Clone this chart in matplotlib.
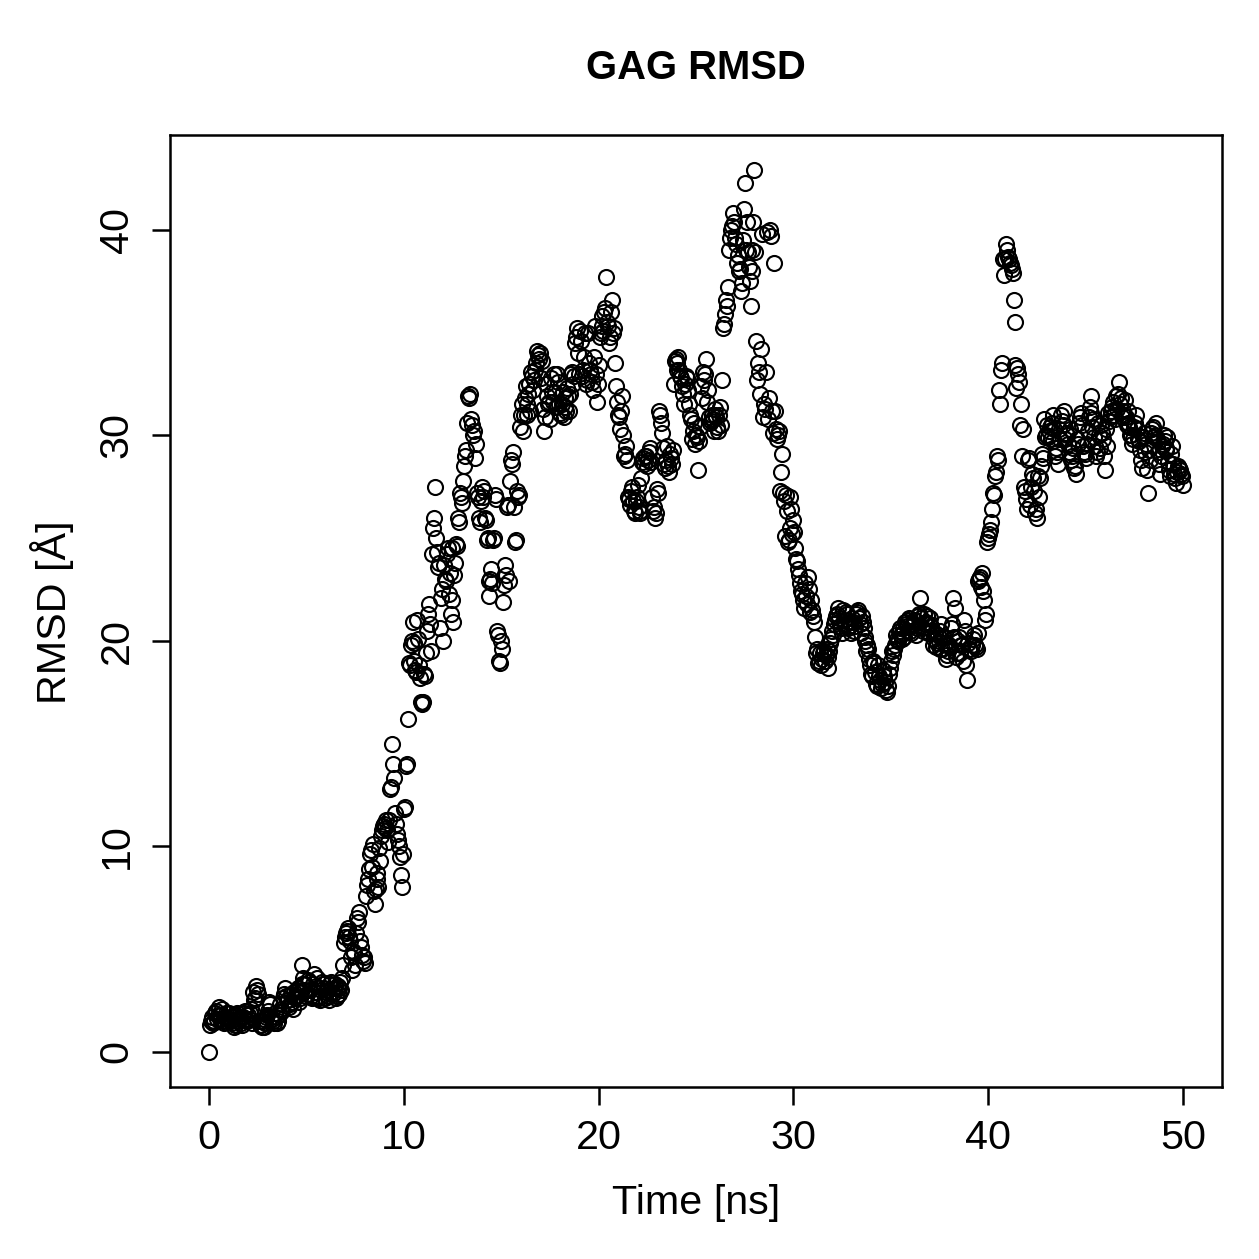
import numpy as np
import matplotlib
matplotlib.use("Agg")
import matplotlib.pyplot as plt

plt.rcParams['font.family'] = ['Liberation Sans', 'DejaVu Sans']

title = "GAG RMSD"
x_label = "Time [ns]"
y_label = "RMSD [Å]"
x_ticks = [0, 10, 20, 30, 40, 50]
y_ticks = [0, 10, 20, 30, 40]
time_step_ns = 0.05

# RMSD [Å] at t = 0.0, 0.1, ..., 50.0 ns
rmsd_whole = [0.0,
    1.5, 1.4, 1.9, 1.6, 2.2, 1.8, 1.5, 1.7, 1.9, 1.6,
    1.6, 1.4, 1.2, 1.8, 1.5, 1.7, 1.3, 1.9, 1.6, 1.8,
    1.9, 1.4, 2.5, 3.2, 2.8, 1.3, 1.2, 1.6, 1.4, 1.8,
    2.4, 1.7, 1.5, 1.9, 1.4, 1.8, 2.1, 2.6, 3.1, 2.5,
    2.2, 2.8, 2.1, 2.6, 3.0, 2.4, 2.9, 4.2, 3.3, 2.7,
    3.5, 3.0, 2.6, 3.8, 3.2, 2.7, 2.5, 3.4, 3.1, 2.9,
    2.7, 3.3, 2.9, 3.1, 2.6, 3.2, 2.8, 3.0, 4.2, 5.6,
    5.9, 5.6, 4.6, 4.9, 4.2, 6.5, 6.8, 5.1, 4.4, 4.3,
    8.1, 8.9, 9.8, 10.1, 7.2, 8.7, 8.0, 9.3, 10.8, 11.1,
    11.3, 10.2, 12.8, 15.0, 13.3, 11.1, 10.3, 9.5, 8.0, 11.8,
    13.9, 16.2, 18.8, 20.0, 19.9, 18.6, 21.0, 18.8, 17.0, 17.0,
    18.3, 20.5, 21.8, 19.5, 25.5, 27.5, 24.3, 23.8, 22.1, 20.0,
    23.0, 24.2, 22.3, 21.3, 24.5, 23.2, 24.7, 26.0, 27.2, 26.7,
    28.5, 29.3, 31.9, 32.0, 30.5, 30.2, 29.6, 27.0, 25.8, 27.5,
    27.3, 25.9, 25.0, 22.2, 23.5, 24.9, 27.1, 20.5, 19.0, 20.0,
    21.9, 23.7, 26.5, 22.9, 28.8, 29.2, 24.8, 27.3, 27.1, 31.0,
    30.2, 31.8, 31.0, 32.0, 31.2, 32.9, 32.7, 33.5, 33.9, 34.0,
    33.6, 30.2, 32.5, 31.5, 30.8, 32.1, 33.0, 31.4, 32.6, 31.1,
    31.5, 30.9, 31.8, 32.3, 31.2, 33.0, 32.5, 34.5, 35.2, 33.0,
    34.6, 33.2, 35.0, 32.7, 33.5, 33.0, 32.2, 35.3, 31.6, 33.4,
    35.0, 35.8, 36.0, 37.7, 35.3, 34.8, 36.6, 35.2, 32.4, 31.0,
    30.3, 31.9, 29.0, 29.5, 27.0, 26.6, 27.5, 26.3, 26.8, 27.6,
    26.2, 27.9, 28.9, 29.0, 28.5, 29.2, 28.7, 26.3, 26.0, 27.4,
    31.2, 30.6, 29.4, 28.4, 29.5, 28.2, 28.9, 29.3, 33.6, 33.2,
    33.8, 32.9, 32.4, 31.5, 32.9, 32.2, 31.0, 29.8, 30.6, 30.0,
    28.3, 30.4, 31.8, 32.7, 33.7, 32.2, 30.6, 31.0, 30.2, 31.3,
    30.4, 31.0, 30.5, 35.2, 35.9, 36.3, 39.0, 40.0, 40.8, 39.6,
    38.4, 38.0, 37.0, 39.5, 42.3, 40.4, 38.2, 36.3, 39.0, 42.9,
    34.6, 33.5, 32.0, 39.8, 31.5, 33.1, 30.8, 40.0, 31.2, 38.4,
    30.3, 30.0, 27.3, 29.1, 26.8, 27.1, 24.8, 25.5, 26.4, 25.9,
    24.5, 23.9, 23.2, 22.4, 22.0, 22.8, 21.8, 22.5, 22.0, 21.2,
    20.2, 19.6, 19.0, 18.8, 19.4, 19.0, 19.6, 19.2, 19.9, 20.5,
    20.8, 21.2, 21.6, 20.7, 20.4, 21.0, 21.4, 20.6, 20.9, 21.1,
    20.5, 21.3, 21.5, 20.8, 21.2, 20.6, 20.2, 19.8, 19.1, 18.4,
    19.0, 18.5, 17.8, 18.3, 17.7, 18.6, 18.0, 17.5, 18.4, 19.0,
    19.3, 19.8, 20.1, 20.5, 20.3, 20.6, 20.2, 20.8, 21.0, 20.5,
    20.7, 21.0, 20.3, 21.2, 22.1, 20.6, 21.3, 20.9, 20.4, 21.1,
    20.5, 20.1, 19.7, 20.3, 19.6, 20.8, 20.2, 19.9, 19.3, 19.8,
    20.6, 22.1, 21.6, 19.4, 20.2, 19.8, 19.0, 20.5, 18.1, 19.6,
    19.5, 20.1, 19.8, 19.6, 22.9, 23.1, 23.3, 22.0, 21.3, 25.0,
    25.4, 26.4, 27.1, 28.2, 28.8, 31.5, 33.5, 37.8, 39.3, 38.7,
    38.4, 38.1, 36.6, 35.5, 33.3, 32.6, 31.5, 30.3, 27.3, 26.4,
    28.9, 27.5, 27.9, 26.2, 26.0, 27.0, 28.5, 28.9, 29.9, 30.5,
    30.2, 29.8, 31.0, 30.3, 29.4, 28.6, 29.8, 30.7, 31.2, 30.1,
    29.6, 30.3, 29.0, 28.4, 28.1, 29.6, 30.9, 30.5, 29.2, 28.9,
    30.2, 31.4, 31.9, 30.8, 29.5, 29.2, 30.0, 30.5, 29.8, 28.3,
    29.5, 30.7, 31.2, 31.6, 30.8, 31.3, 32.6, 31.8, 31.2, 31.7,
    30.5, 31.2, 30.0, 29.6, 30.4, 31.0, 29.8, 29.3, 28.4, 30.1,
    29.6, 27.2, 28.8, 30.3, 29.9, 30.6, 29.2, 28.1, 29.5, 30.0,
    29.4, 29.9, 28.3, 29.1, 28.6, 27.9, 28.2, 28.4, 28.1, 27.6,
]

# RMSD [Å] at t = 0.05, 0.15, ..., 49.95 ns
rmsd_half = [
    1.3, 1.7, 1.5, 2.0, 1.8, 1.6, 2.1, 1.4, 1.7, 1.5,
    1.9, 1.5, 1.7, 1.3, 1.9, 1.6, 1.4, 1.7, 2.0, 1.5,
    1.6, 2.1, 2.9, 2.6, 3.0, 1.5, 1.3, 1.5, 1.2, 1.7,
    2.0, 2.3, 1.6, 1.4, 1.7, 1.5, 2.3, 2.0, 2.8, 2.7,
    2.5, 2.3, 2.4, 2.9, 2.7, 3.1, 2.6, 3.3, 3.6, 3.0,
    2.8, 3.4, 2.7, 3.3, 2.9, 3.6, 2.6, 3.0, 3.3, 2.6,
    3.0, 2.5, 3.4, 2.8, 3.3, 2.7, 3.1, 3.4, 3.6, 5.3,
    5.8, 6.0, 5.4, 4.0, 4.8, 5.8, 6.3, 5.4, 4.7, 4.6,
    7.6, 8.4, 9.6, 9.0, 7.8, 7.9, 8.4, 9.9, 10.5, 11.0,
    10.9, 10.8, 11.3, 12.9, 14.0, 11.6, 10.6, 10.0, 8.6, 9.6,
    11.9, 14.0, 18.9, 19.8, 20.9, 19.0, 18.5, 20.1, 18.2, 16.9,
    18.4, 19.4, 21.3, 20.8, 24.2, 26.0, 25.0, 23.6, 20.6, 22.5,
    23.7, 22.9, 24.5, 23.3, 22.0, 20.9, 23.8, 24.6, 25.8, 27.0,
    27.8, 29.0, 30.6, 31.8, 30.8, 30.0, 28.9, 27.2, 26.0, 26.8,
    27.0, 26.0, 24.9, 22.9, 23.0, 22.8, 25.0, 26.9, 20.3, 18.9,
    19.6, 22.7, 23.2, 26.6, 27.8, 28.6, 26.5, 24.9, 27.0, 30.4,
    31.5, 31.0, 32.4, 31.5, 32.5, 33.1, 32.2, 33.2, 34.1, 33.7,
    32.8, 31.3, 30.9, 31.9, 31.6, 32.8, 31.6, 32.1, 33.0, 31.5,
    31.0, 32.1, 31.4, 31.2, 31.9, 32.0, 33.1, 32.9, 34.8, 34.0,
    35.1, 32.9, 33.8, 32.5, 35.0, 33.2, 32.6, 33.8, 33.0, 32.5,
    34.8, 35.3, 35.1, 36.2, 35.5, 34.5, 36.0, 35.0, 33.5, 31.6,
    30.9, 31.2, 30.0, 29.1, 28.8, 26.9, 27.3, 26.8, 26.2, 27.0,
    26.5, 26.3, 28.7, 28.6, 29.0, 28.8, 29.4, 27.0, 26.5, 26.2,
    27.2, 31.0, 30.1, 28.6, 28.8, 28.5, 29.1, 28.6, 32.5, 33.7,
    33.5, 33.2, 32.8, 32.0, 32.5, 32.8, 31.5, 30.8, 30.2, 29.6,
    29.9, 29.7, 32.4, 33.1, 33.0, 31.6, 30.9, 30.7, 30.8, 31.0,
    30.9, 30.2, 31.4, 32.7, 35.4, 36.6, 37.2, 39.6, 40.2, 40.4,
    39.3, 38.8, 38.1, 37.4, 41.0, 39.0, 38.9, 37.5, 38.0, 40.4,
    38.9, 32.7, 33.1, 34.2, 30.9, 31.3, 39.9, 31.8, 39.7, 30.1,
    31.2, 29.8, 30.2, 28.2, 27.2, 25.1, 26.3, 24.9, 27.0, 25.2,
    25.3, 24.0, 23.5, 22.8, 22.3, 21.6, 22.2, 23.1, 21.4, 21.5,
    20.9, 19.4, 18.9, 19.4, 19.1, 19.5, 19.3, 18.7, 19.5, 20.1,
    20.3, 21.0, 21.3, 21.1, 20.6, 21.5, 20.8, 21.3, 20.7, 20.4,
    20.9, 20.7, 21.4, 21.1, 20.4, 20.9, 20.0, 19.5, 19.6, 18.8,
    18.3, 18.9, 17.9, 18.8, 18.1, 17.9, 18.3, 17.6, 17.8, 18.7,
    19.5, 19.6, 20.3, 20.0, 20.6, 20.1, 20.4, 20.9, 20.7, 21.1,
    20.4, 20.8, 21.0, 20.6, 21.3, 21.1, 20.5, 20.8, 21.2, 20.8,
    20.7, 19.8, 20.4, 19.9, 20.0, 20.5, 19.6, 20.2, 19.1, 19.5,
    19.7, 20.8, 20.2, 19.2, 20.0, 19.4, 19.8, 21.0, 18.8, 19.9,
    19.6, 19.8, 20.3, 19.7, 20.4, 23.0, 22.6, 22.4, 21.0, 24.8,
    25.2, 25.8, 27.2, 28.0, 29.0, 32.2, 33.2, 38.6, 38.6, 39.0,
    38.6, 38.3, 37.9, 33.4, 32.3, 33.0, 30.5, 29.0, 27.5, 26.9,
    28.8, 26.6, 28.1, 27.3, 26.4, 28.0, 27.9, 29.1, 30.8, 30.0,
    29.9, 30.4, 30.6, 29.7, 29.0, 29.2, 30.3, 31.0, 30.5, 29.8,
    30.0, 29.2, 28.8, 29.4, 28.5, 29.8, 30.6, 31.1, 29.5, 29.1,
    29.6, 30.9, 31.1, 30.4, 29.9, 29.0, 30.6, 29.4, 30.1, 29.0,
    30.3, 31.1, 30.9, 31.4, 31.0, 31.9, 32.0, 31.5, 30.9, 31.0,
    30.9, 30.6, 30.4, 30.0, 29.8, 30.6, 30.3, 29.7, 28.8, 29.9,
    29.2, 28.3, 29.3, 30.1, 30.4, 30.0, 29.8, 28.6, 29.0, 29.6,
    29.7, 29.3, 28.7, 28.0, 29.5, 28.1, 27.7, 28.5, 28.3, 28.0,
]

rmsd = np.empty(len(rmsd_whole) + len(rmsd_half))
rmsd[0::2] = rmsd_whole
rmsd[1::2] = rmsd_half
time = np.arange(len(rmsd)) * time_step_ns

W = H = 1259
DPI = 180
FS = 16.5
fig = plt.figure(figsize=(W / DPI, H / DPI), dpi=DPI)
ax = fig.add_axes([170 / W, 1 - 1087 / H, (1222 - 170) / W, (1087 - 135) / H])

ax.plot(time, rmsd, linestyle='none', marker='o', markersize=6.0,
        markerfacecolor='none', markeredgecolor='black', markeredgewidth=0.85)

xr = time.max() - time.min()
yr = rmsd.max() - rmsd.min()
ax.set_xlim(time.min() - 0.04 * xr, time.max() + 0.04 * xr)
ax.set_ylim(rmsd.min() - 0.04 * yr, rmsd.max() + 0.04 * yr)

ax.set_xticks(x_ticks)
ax.set_yticks(y_ticks)
ax.set_xticklabels([str(v) for v in x_ticks])
ax.set_yticklabels([str(v) for v in y_ticks], rotation=90, va='center')
ax.tick_params(axis='x', direction='out', length=7.2, width=1.0, labelsize=FS, pad=5.5, color='black')
ax.tick_params(axis='y', direction='out', length=7.2, width=1.0, labelsize=FS, pad=6.5, color='black')
for s in ax.spines.values():
    s.set_linewidth(1.0)

fig.text(696 / W, 1 - 68 / H, title, ha='center', va='center', fontsize=16, fontweight='bold')
fig.text(696 / W, 1 - 1203 / H, x_label, ha='center', va='center', fontsize=FS)
fig.text(52 / W, 1 - 612 / H, y_label, ha='center', va='center', fontsize=FS, rotation=90)

fig.savefig("out.png", dpi=DPI)
